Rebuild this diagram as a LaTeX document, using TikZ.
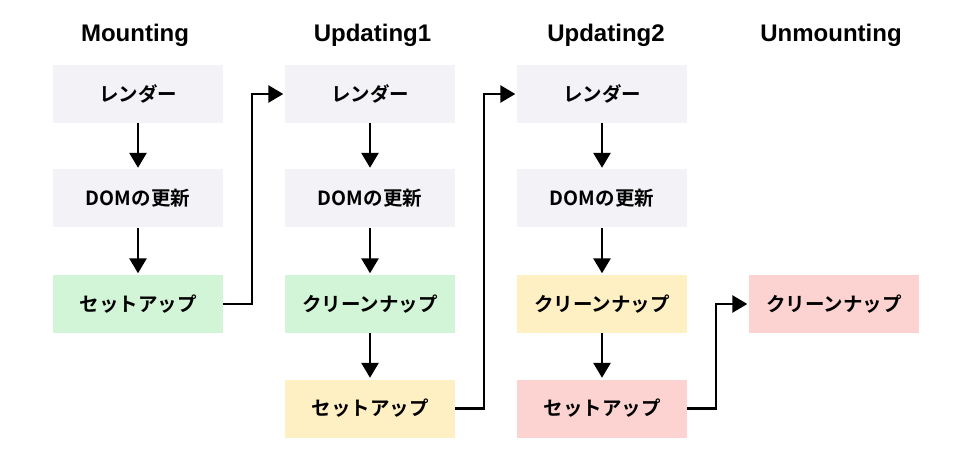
\documentclass[tikz,border=0pt]{standalone}
\usepackage{fontspec}
\setmainfont{Liberation Sans}
\newfontfamily\jp{Noto Sans CJK JP}[BoldFont={Noto Sans CJK JP Bold}]
\usetikzlibrary{arrows.meta}
\definecolor{cgray}{HTML}{F2F2F7}
\definecolor{cgreen}{HTML}{D1F5D6}
\definecolor{cyellow}{HTML}{FFF0C4}
\definecolor{cpink}{HTML}{FCD3D1}
\tikzset{
  box/.style={fill=#1, minimum width=170pt, minimum height=58pt, inner sep=0pt, font=\jp\bfseries\fontsize{19.5}{23}\selectfont},
  ttl/.style={font=\bfseries\fontsize{24}{28}\selectfont, anchor=base, inner sep=0pt},
  conn/.style={line width=2.8pt, -{Triangle[length=15pt,width=17pt]}, shorten >=1.5pt},
}
\begin{document}
\begin{tikzpicture}[x=1pt,y=-1pt]
\useasboundingbox (0,0) rectangle (972,457);
% titles
\node[ttl] (t1) at (135,41.5) {Mounting};
\node[ttl] (t2) at (372.5,41.5) {Updating1};
\node[ttl] (t3) at (606,41.5) {Updating2};
\node[ttl] (t4) at (831,41.5) {Unmounting};
% column 1
\node[box=cgray] (a1) at (138,94) {レンダー};
\node[box=cgray] (a2) at (138,198.5) {DOMの更新};
\node[box=cgreen] (a3) at (138,304) {セットアップ};
% column 2
\node[box=cgray] (b1) at (370,94) {レンダー};
\node[box=cgray] (b2) at (370,198.5) {DOMの更新};
\node[box=cgreen] (b3) at (370,304) {クリーンナップ};
\node[box=cyellow] (b4) at (370,408.5) {セットアップ};
% column 3
\node[box=cgray] (c1) at (602,94) {レンダー};
\node[box=cgray] (c2) at (602,198.5) {DOMの更新};
\node[box=cyellow] (c3) at (602,304) {クリーンナップ};
\node[box=cpink] (c4) at (602,408.5) {セットアップ};
% column 4
\node[box=cpink] (d3) at (834,304) {クリーンナップ};
% vertical arrows
\draw[conn] (a1) -- (a2);
\draw[conn] (a2) -- (a3);
\draw[conn] (b1) -- (b2);
\draw[conn] (b2) -- (b3);
\draw[conn] (b3) -- (b4);
\draw[conn] (c1) -- (c2);
\draw[conn] (c2) -- (c3);
\draw[conn] (c3) -- (c4);
% elbow connectors
\draw[conn] (a3.east) -- (252,304) |- (b1.west);
\draw[conn] (b4.east) -- (484,408.5) |- (c1.west);
\draw[conn] (c4.east) -- (716,408.5) |- (d3.west);
\end{tikzpicture}
\end{document}
